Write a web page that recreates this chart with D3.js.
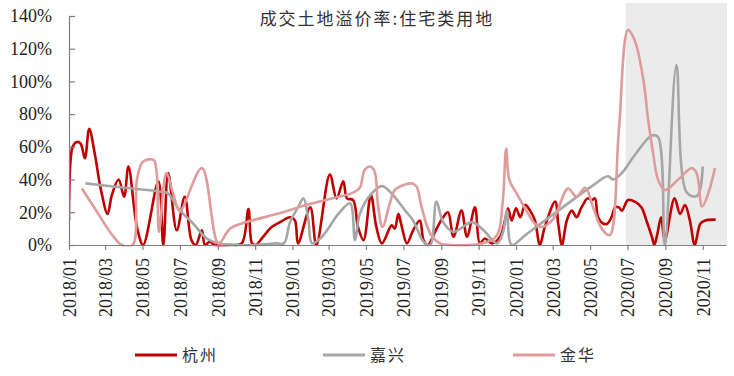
<!DOCTYPE html>
<html>
<head>
<meta charset="UTF-8">
<title>成交土地溢价率</title>
<script src="https://cdnjs.cloudflare.com/ajax/libs/d3/7.8.5/d3.min.js"></script>
<style>
    body { margin: 0; background: #fff; }
    .tick text { font-family: "Liberation Serif", "Times New Roman", serif; fill: #222; }
    .cn { font-family: "Noto Sans CJK SC", sans-serif; fill: #333; }
</style>
</head>
<body>
<div id="chart"></div>
<script>
    // 杭州
    const hzDates = ["2018-01-01","2018-01-07","2018-01-14","2018-01-20","2018-01-27","2018-02-03","2018-02-12","2018-02-22","2018-03-05","2018-03-12",
        "2018-03-23","2018-04-01","2018-04-08","2018-04-22","2018-05-02","2018-05-27","2018-06-04","2018-06-12","2018-06-26","2018-07-09",
        "2018-07-20","2018-07-27","2018-08-06","2018-08-11","2018-08-19","2018-08-27","2018-09-21","2018-10-10","2018-10-21","2018-10-27",
        "2018-11-02","2018-11-14","2018-11-28","2018-12-12","2018-12-28","2019-01-05","2019-01-10","2019-01-30","2019-02-09","2019-03-03",
        "2019-03-14","2019-03-25","2019-03-31","2019-04-10","2019-04-18","2019-04-27","2019-05-09","2019-05-18","2019-05-27","2019-06-12",
        "2019-06-17","2019-06-23","2019-06-28","2019-07-07","2019-07-17","2019-07-28","2019-08-03","2019-08-10","2019-08-23","2019-09-04",
        "2019-09-12","2019-09-21","2019-10-04","2019-10-13","2019-10-26","2019-11-03","2019-11-11","2019-11-23","2019-12-06","2019-12-14",
        "2019-12-19","2019-12-25","2020-01-01","2020-01-08","2020-01-16","2020-01-24","2020-02-01","2020-02-09","2020-02-17","2020-03-05",
        "2020-03-10","2020-03-16","2020-03-24","2020-04-01","2020-04-09","2020-04-17","2020-04-27","2020-05-04","2020-05-09","2020-05-14",
        "2020-05-23","2020-05-29","2020-06-05","2020-06-11","2020-06-17","2020-06-22","2020-07-02","2020-07-13","2020-07-24","2020-08-01",
        "2020-08-10","2020-08-14","2020-08-19","2020-08-25","2020-08-31","2020-09-16","2020-09-25","2020-10-03","2020-10-11","2020-10-19",
        "2020-10-28","2020-11-05","2020-11-22"];
    const hzValues = [15,60,63,62,53,71,56,34,19,30.5,
        40,29.5,48,11,0,39,0,44,9,29.5,
        3,0,9,0,2,0,0,1,22,1,
        0,5,11,14,17,15,1,23,0,43,
        28.5,39,28.5,27.5,11,3,30.5,11,1,12,
        10,19,12,1,9,15,3,0,9,17,
        20,5,21,5,23,1,4,1,5,15,
        22.5,15,22.5,17,24.5,21,15,0,11,26.5,
        13,0,15,21,17,23,28.5,27.5,28.5,17,
        13,13,17,23,23,21,27.5,26.5,23,15,
        5,0,7,17,3,28.5,19,24.5,15,0,
        13,15,15.5];

    // 嘉兴
    const jxDates = ["2018-01-28","2018-04-02","2018-06-02","2018-06-12","2018-06-28","2018-07-23","2018-08-14","2018-09-02","2018-09-26","2018-11-01",
        "2018-12-06","2018-12-18","2018-12-28","2019-01-10","2019-01-19","2019-01-27","2019-02-02","2019-02-18","2019-03-17","2019-04-05",
        "2019-04-13","2019-04-21","2019-05-08","2019-05-27","2019-06-12","2019-07-04","2019-07-17","2019-08-03","2019-08-14","2019-08-24",
        "2019-09-04","2019-09-21","2019-10-21","2019-11-09","2019-12-01","2019-12-11","2019-12-17","2019-12-25","2020-01-16","2020-03-10",
        "2020-05-04","2020-05-30","2020-06-08","2020-06-22","2020-07-13","2020-08-10","2020-08-20","2020-08-31","2020-09-19","2020-10-06",
        "2020-10-23","2020-11-01"];
    const jxValues = [37.7,35,32.5,31.5,22.5,13,4,1,0,0,
        1,1,14,23,28.5,15,1,5,19,25.5,
        3,19,30.5,36,31.5,21,15,2,0,26.5,
        14,8,14,9,1,8,21,0,6,21,
        36,42,40,44,55,67,66,0,110,32,
        30,48];

    // 金华
    const jhDates = ["2018-01-22","2018-02-18","2018-03-09","2018-03-28","2018-04-15","2018-04-22","2018-05-02","2018-05-19","2018-05-24","2018-05-28",
        "2018-06-09","2018-06-20","2018-07-01","2018-08-06","2018-09-02","2018-09-21","2018-10-18","2018-12-12","2019-01-10","2019-03-01",
        "2019-04-10","2019-04-21","2019-04-29","2019-05-08","2019-05-15","2019-05-21","2019-05-28","2019-06-09","2019-06-17","2019-07-04",
        "2019-07-17","2019-07-23","2019-07-31","2019-08-14","2019-08-30","2019-09-15","2019-11-08","2019-12-01","2019-12-10","2019-12-16",
        "2019-12-21","2020-01-02","2020-01-18","2020-02-01","2020-02-12","2020-03-02","2020-03-26","2020-04-09","2020-04-23","2020-05-06",
        "2020-05-20","2020-06-02","2020-06-17","2020-07-02","2020-07-13","2020-07-27","2020-08-04","2020-08-12","2020-08-20","2020-08-31",
        "2020-09-22","2020-10-14","2020-10-22","2020-10-31","2020-11-10","2020-11-21"];
    const jhValues = [34.5,19,8,0,0,40,51,52,45,8,
        44,31.5,21,47,1,10,14,19.5,23,28,
        32,35,46,48,45,23,11,25.5,33.5,37,
        37.5,35.5,23,7,1,0,1,6,25,59,
        40,31.5,21,13,11,16,34.5,29.5,35,23,
        10,6,70,131.5,125,101,76,56,40,33.6,
        40,47,44,23.5,31.5,47];

    const tickLabels = ["2018/01","2018/03","2018/05","2018/07","2018/09","2018/11","2019/01","2019/03","2019/05","2019/07",
        "2019/09","2019/11","2020/01","2020/03","2020/05","2020/07","2020/09","2020/11"];
    const yTicks = [0, 20, 40, 60, 80, 100, 120, 140];
    const shadeFrom = "2020-06-28";

    const width = 734, height = 376;
    const parse = d3.timeParse("%Y-%m-%d");
    const parseTick = d3.timeParse("%Y/%m");

    const x = d3.scaleTime()
        .domain([parse("2018-01-01"), parse("2020-12-09")])
        .range([69, 726]);
    const y = d3.scaleLinear().domain([0, 140]).range([245, 16]);

    const svg = d3.select("#chart").append("svg")
        .attr("width", width)
        .attr("height", height);

    // shaded period
    svg.append("rect")
        .attr("x", x(parse(shadeFrom)))
        .attr("y", y(148))
        .attr("width", x.range()[1] - x(parse(shadeFrom)) + 1)
        .attr("height", y(0) - y(148))
        .attr("fill", "#ebebeb");

    svg.append("defs").append("clipPath").attr("id", "plot")
        .append("rect")
        .attr("x", x.range()[0]).attr("y", 0)
        .attr("width", x.range()[1] - x.range()[0]).attr("height", y(0) + 1.5);

    const line = d3.line()
        .x(d => x(d.date))
        .y(d => y(d.value))
        .curve(d3.curveCatmullRom.alpha(0.5));

    const series = [
        { name: "杭州", dates: hzDates, values: hzValues, color: "#c00000" },
        { name: "嘉兴", dates: jxDates, values: jxValues, color: "#a6a6a6" },
        { name: "金华", dates: jhDates, values: jhValues, color: "#df9c9c" }
    ];

    const lines = svg.append("g").attr("clip-path", "url(#plot)");
    series.forEach(s => {
        const pts = s.dates.map((d, i) => ({ date: parse(d), value: s.values[i] }));
        lines.append("path")
            .datum(pts)
            .attr("fill", "none")
            .attr("stroke", s.color)
            .attr("stroke-width", 2.6)
            .attr("stroke-linejoin", "round")
            .attr("d", line);
    });

    // axes
    const yAxis = d3.axisLeft(y)
        .tickValues(yTicks)
        .tickFormat(d => d + "%")
        .tickSizeInner(-6)
        .tickSizeOuter(0)
        .tickPadding(17);

    const gy = svg.append("g")
        .attr("transform", "translate(" + x.range()[0] + ",0)")
        .call(yAxis);
    gy.selectAll("text").style("font-size", "18px");

    const xAxis = d3.axisBottom(x)
        .tickValues(tickLabels.map(parseTick))
        .tickFormat(d3.timeFormat("%Y/%m"))
        .tickSizeInner(5)
        .tickSizeOuter(0);

    const gx = svg.append("g")
        .attr("transform", "translate(0," + y(0) + ")")
        .call(xAxis);
    gx.selectAll("text")
        .style("font-size", "18px")
        .attr("transform", "rotate(-90)")
        .attr("text-anchor", "end")
        .attr("x", -13)
        .attr("y", 0)
        .attr("dy", "0.35em");

    svg.selectAll(".domain, .tick line").attr("stroke", "#7f7f7f").attr("stroke-width", 1.2);

    // title
    svg.append("text")
        .attr("class", "cn")
        .attr("x", 377)
        .attr("y", 25)
        .attr("text-anchor", "middle")
        .style("font-size", "17px")
        .style("letter-spacing", "2px")
        .text("成交土地溢价率:住宅类用地");

    // legend
    const legendX = [135, 323, 513];
    const legend = svg.append("g").attr("transform", "translate(0,355)");
    series.forEach((s, i) => {
        legend.append("line")
            .attr("x1", legendX[i]).attr("x2", legendX[i] + 42)
            .attr("y1", 0).attr("y2", 0)
            .attr("stroke", s.color)
            .attr("stroke-width", 3);
        legend.append("text")
            .attr("class", "cn")
            .attr("x", legendX[i] + 47)
            .attr("y", 6)
            .style("font-size", "16px")
            .style("letter-spacing", "2px")
            .text(s.name);
    });
</script>
</body>
</html>
